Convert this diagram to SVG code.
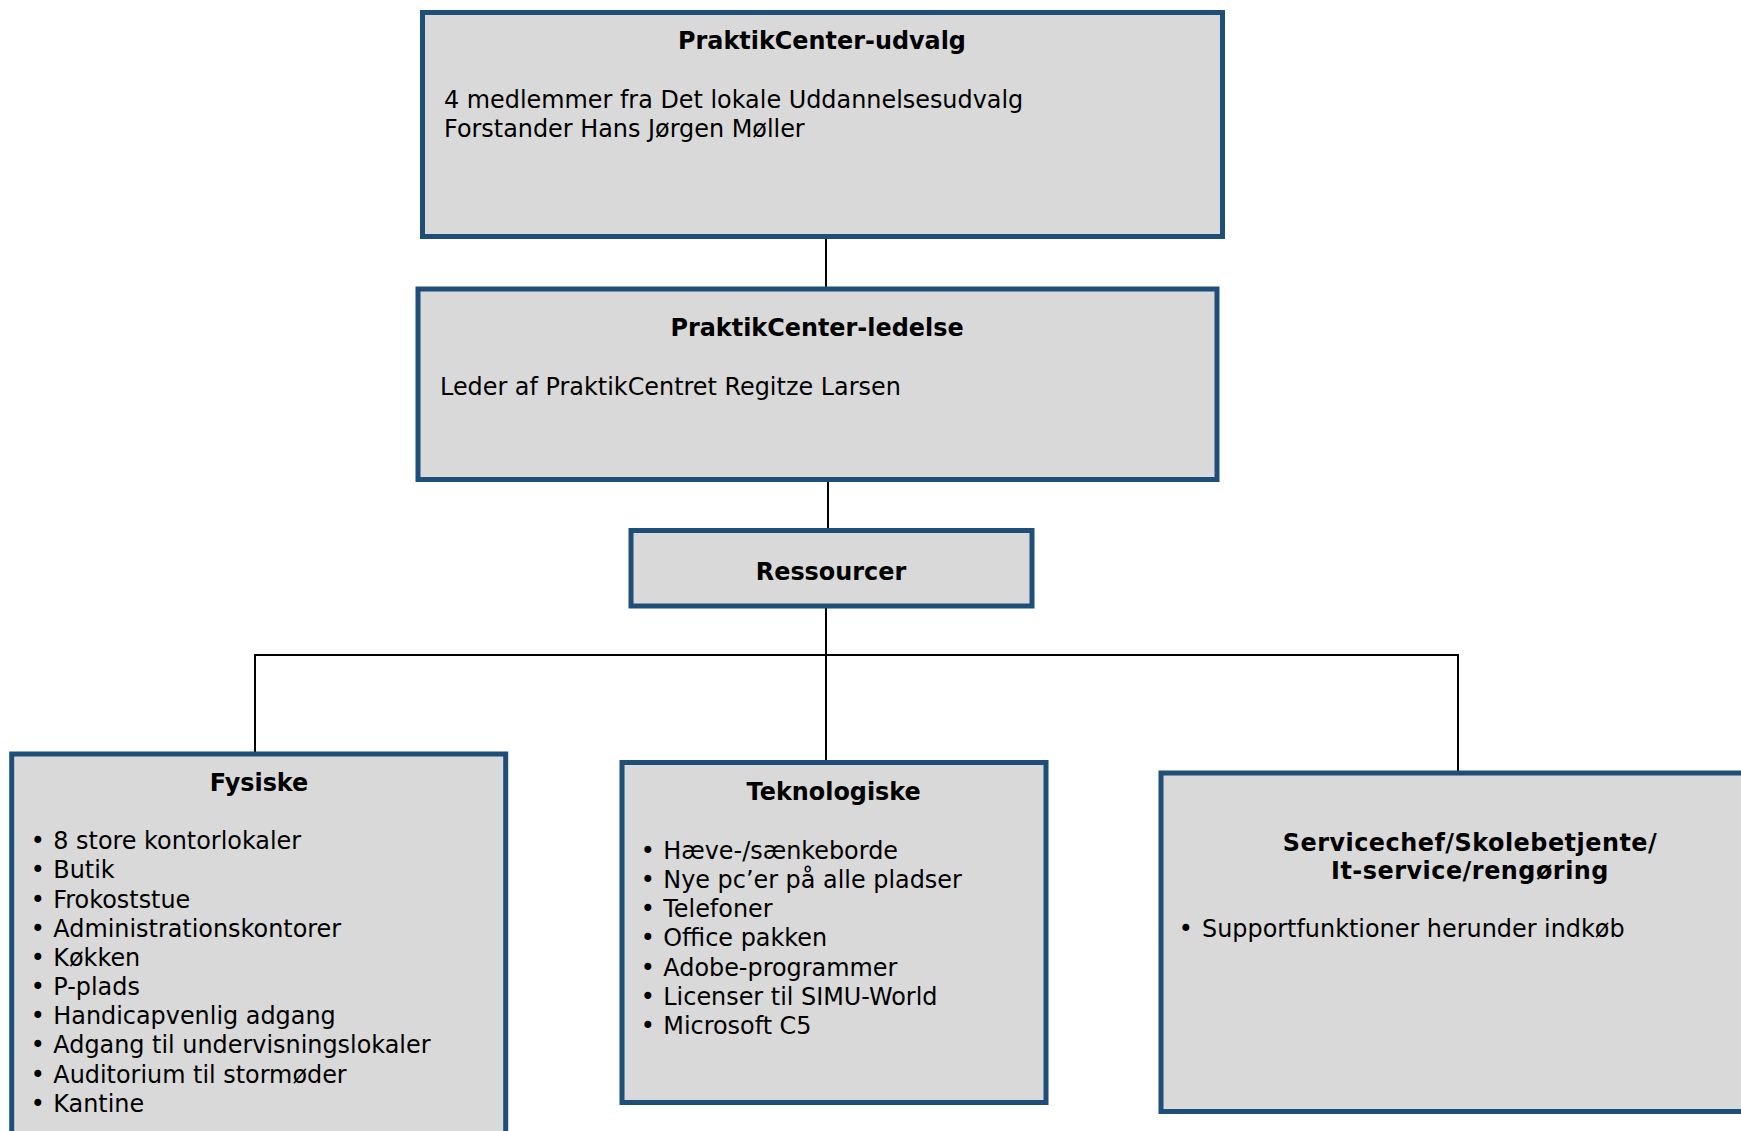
<svg xmlns="http://www.w3.org/2000/svg" width="1741" height="1131" viewBox="0 0 1741 1131">
<style>
.box{fill:#D9D9D9;stroke:#1F4E79;stroke-width:5}
.t{font-family:"DejaVu Sans","Verdana",sans-serif;font-size:23.9px;fill:#000}
.b{font-weight:bold}
.c{text-anchor:middle}
.ls{letter-spacing:0.5px}
.ln{stroke:#000;stroke-width:2;fill:none}
</style>
<rect width="1741" height="1131" fill="#fff"/>
<g id="connectors">
<line class="ln" x1="826" y1="239" x2="826" y2="287"/>
<line class="ln" x1="828" y1="482" x2="828" y2="529"/>
<polyline class="ln" points="826,608 826,655"/>
<polyline class="ln" points="255,752 255,655 1458,655 1458,771"/>
<line class="ln" x1="826" y1="655" x2="826" y2="761"/>
</g>
<g id="udvalg">
<rect class="box" x="422.5" y="12.5" width="800" height="224"/>
<text class="t b c" x="822" y="49">PraktikCenter-udvalg</text>
<text class="t" x="444" y="107.5">4 medlemmer fra Det lokale Uddannelsesudvalg</text>
<text class="t" x="444" y="136.5">Forstander Hans Jørgen Møller</text>
</g>
<g id="ledelse">
<rect class="box" x="418" y="289" width="799" height="190.5"/>
<text class="t b c" x="817" y="335.5">PraktikCenter-ledelse</text>
<text class="t" x="440" y="394.5">Leder af PraktikCentret Regitze Larsen</text>
</g>
<g id="ressourcer">
<rect class="box" x="631" y="530.5" width="401" height="75.5"/>
<text class="t b c" x="831" y="579.5">Ressourcer</text>
</g>
<g id="fysiske">
<rect class="box" x="11.7" y="754" width="494" height="420"/>
<text class="t b c" x="259" y="791">Fysiske</text>
<g class="t">
<text class="c" x="37.7" y="849.3">•</text><text x="53.3" y="849.3">8 store kontorlokaler</text>
<text class="c" x="37.7" y="878.4">•</text><text x="53.3" y="878.4">Butik</text>
<text class="c" x="37.7" y="907.6">•</text><text x="53.3" y="907.6">Frokoststue</text>
<text class="c" x="37.7" y="936.7">•</text><text x="53.3" y="936.7">Administrationskontorer</text>
<text class="c" x="37.7" y="965.9">•</text><text x="53.3" y="965.9">Køkken</text>
<text class="c" x="37.7" y="995">•</text><text x="53.3" y="995">P-plads</text>
<text class="c" x="37.7" y="1024.2">•</text><text x="53.3" y="1024.2">Handicapvenlig adgang</text>
<text class="c" x="37.7" y="1053.3">•</text><text x="53.3" y="1053.3">Adgang til undervisningslokaler</text>
<text class="c" x="37.7" y="1082.5">•</text><text x="53.3" y="1082.5">Auditorium til stormøder</text>
<text class="c" x="37.7" y="1111.6">•</text><text x="53.3" y="1111.6">Kantine</text>
</g>
</g>
<g id="teknologiske">
<rect class="box" x="622" y="762.5" width="424" height="340"/>
<text class="t b c" x="833.7" y="800.3">Teknologiske</text>
<g class="t">
<text class="c" x="647.7" y="859">•</text><text x="663.3" y="859">Hæve-/sænkeborde</text>
<text class="c" x="647.7" y="888.1">•</text><text x="663.3" y="888.1">Nye pc’er på alle pladser</text>
<text class="c" x="647.7" y="917.3">•</text><text x="663.3" y="917.3">Telefoner</text>
<text class="c" x="647.7" y="946.4">•</text><text x="663.3" y="946.4">Office pakken</text>
<text class="c" x="647.7" y="975.6">•</text><text x="663.3" y="975.6">Adobe-programmer</text>
<text class="c" x="647.7" y="1004.7">•</text><text x="663.3" y="1004.7">Licenser til SIMU-World</text>
<text class="c" x="647.7" y="1033.9">•</text><text x="663.3" y="1033.9">Microsoft C5</text>
</g>
</g>
<g id="service">
<rect class="box" x="1161" y="773" width="640" height="338.5"/>
<text class="t b c ls" x="1470" y="851">Servicechef/Skolebetjente/</text>
<text class="t b c ls" x="1470" y="879.3">It-service/rengøring</text>
<text class="t c" x="1185.8" y="937">•</text>
<text class="t" x="1202" y="937">Supportfunktioner herunder indkøb</text>
</g>
</svg>
